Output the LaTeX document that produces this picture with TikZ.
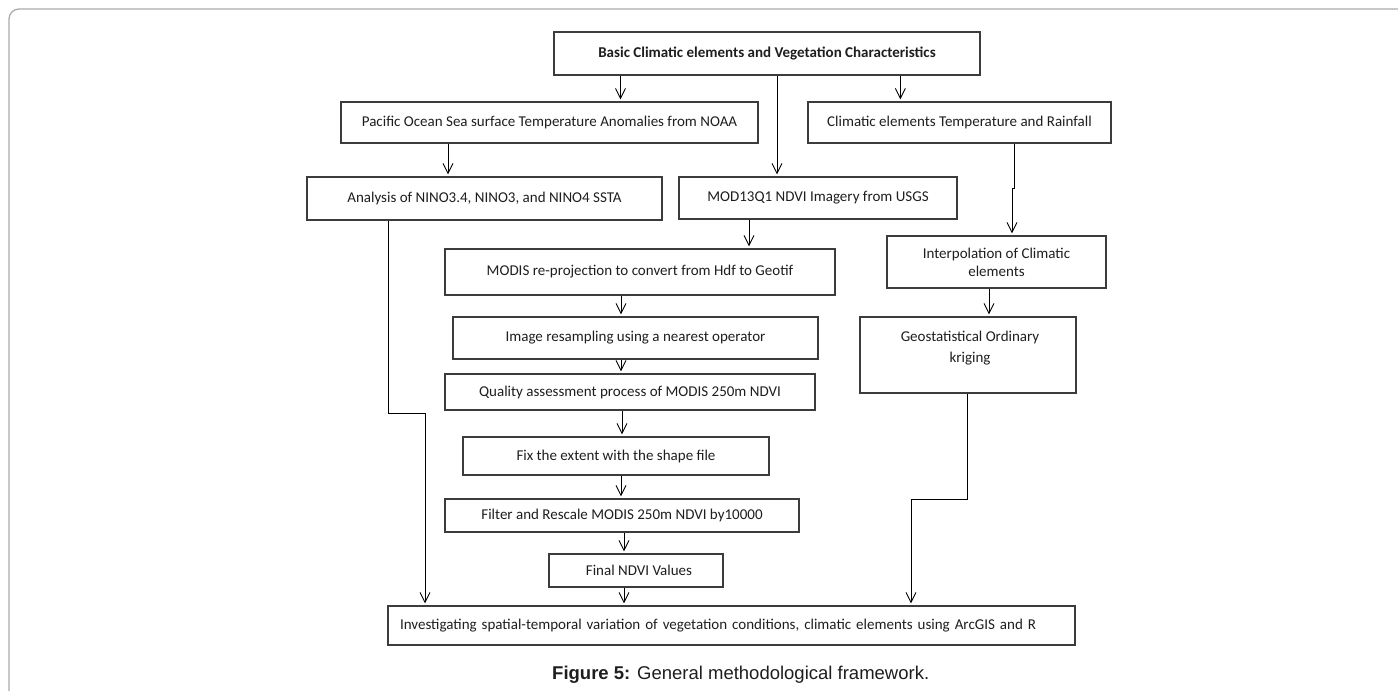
\documentclass[tikz,border=0pt]{standalone}
\usepackage{fontspec}
\setmainfont{Carlito}
\newfontfamily\capfont{Liberation Sans}
\usetikzlibrary{arrows.meta}
\definecolor{boxc}{HTML}{3C3C3C}
\definecolor{framec}{HTML}{AAAAAA}
\definecolor{txtc}{HTML}{1E1E1E}
\begin{document}
\begin{tikzpicture}[x=1pt,y=-1pt,
  box/.style={draw=boxc, line width=1.2pt, inner sep=0pt, align=center,
    font=\fontsize{15}{18}\selectfont, text=txtc},
  arr/.style={draw=black, line width=0.9pt,
    -{Straight Barb[length=10pt,width=10pt,line width=0.9pt]}, shorten >=2pt},
  link/.style={draw=black, line width=0.9pt}]
\useasboundingbox (0,0) rectangle (1398,691);
\draw[framec, line width=1.3pt, rounded corners=10pt] (9,691) -- (9,9) -- (1398,9);

\node[box, minimum width=426pt, minimum height=43pt, font=\fontsize{15}{18}\selectfont\bfseries] (basic) at (767,53.5) {Basic Climatic elements and Vegetation Characteristics};
\node[box, minimum width=417pt, minimum height=41pt] (pacific) at (549.5,122.5) {Pacific Ocean Sea surface Temperature Anomalies from NOAA};
\node[box, minimum width=303pt, minimum height=41pt] (climatic) at (959.5,122.5) {Climatic elements Temperature and Rainfall};
\node[box, minimum width=355pt, minimum height=43pt] (analysis) at (484.5,198.5) {Analysis of NINO3.4, NINO3, and NINO4 SSTA};
\node[box, minimum width=278pt, minimum height=42pt] (mod) at (818,198) {MOD13Q1 NDVI Imagery from USGS};
\node[box, minimum width=390pt, minimum height=46pt] (reproj) at (640,272) {MODIS re-projection to convert from Hdf to Geotif};
\node[box, minimum width=219pt, minimum height=52pt] (interp) at (996.5,262) {Interpolation of Climatic\\elements};
\node[box, minimum width=365pt, minimum height=42pt] (resamp) at (635.5,338) {Image resampling using a nearest operator};
\node[box, minimum width=216pt, minimum height=76pt] (geostat) at (968,355) {};
\node[font=\fontsize{15}{21}\selectfont, text=txtc, align=center, anchor=north, inner sep=0pt] (geotext) at (970,331) {Geostatistical Ordinary\\kriging};
\node[box, minimum width=370pt, minimum height=36pt] (quality) at (630,392) {Quality assessment process of MODIS 250m NDVI};
\node[box, minimum width=306pt, minimum height=38pt] (fix) at (616,456) {Fix the extent with the shape file};
\node[box, minimum width=354pt, minimum height=33pt] (filter) at (622,515.5) {Filter and Rescale MODIS 250m NDVI by10000};
\node[box, minimum width=174pt, minimum height=33pt] (final) at (636,570.5) {\hspace*{6pt}Final NDVI Values};
\node[box, minimum width=687pt, minimum height=39pt, align=left, text width=663pt] (invest) at (731.5,625.5) {Investigating spatial-temporal variation of vegetation conditions, climatic elements using ArcGIS and R};
\node[anchor=west, inner sep=0pt, font=\capfont\fontsize{18.5}{22}\selectfont, text=txtc] (caption) at (552,675) {\textbf{Figure 5:} General methodological framework.};

\draw[arr] (620.5,0 |- basic.south) -- (620.5,0 |- pacific.north);
\draw[arr] (900.4,0 |- basic.south) -- (900.4,0 |- climatic.north);
\draw[arr] (777,0 |- basic.south) -- (777,0 |- mod.north);
\draw[arr] (448,0 |- pacific.south) -- (448,0 |- analysis.north);
\draw[arr] (749,0 |- mod.south) -- (749,0 |- reproj.north);
\draw[arr] (621,0 |- reproj.south) -- (621,0 |- resamp.north);
\draw[arr] (621,0 |- resamp.south) -- (621,0 |- quality.north);
\draw[arr] (622,0 |- quality.south) -- (622,0 |- fix.north);
\draw[arr] (621,0 |- fix.south) -- (621,0 |- filter.north);
\draw[arr] (624,0 |- filter.south) -- (624,0 |- final.north);
\draw[arr] (624,0 |- final.south) -- (624,0 |- invest.north);
\draw[arr] (989,0 |- interp.south) -- (989,0 |- geostat.north);
\draw[arr] (1014,0 |- climatic.south) -- (1014,188) -- (1012,188) -- (1012,0 |- interp.north);
\draw[arr] (388,0 |- analysis.south) -- (388,413) -- (425,413) -- (425,0 |- invest.north);
\draw[arr] (967,0 |- geostat.south) -- (967,499) -- (911,499) -- (911,0 |- invest.north);
\end{tikzpicture}
\end{document}
